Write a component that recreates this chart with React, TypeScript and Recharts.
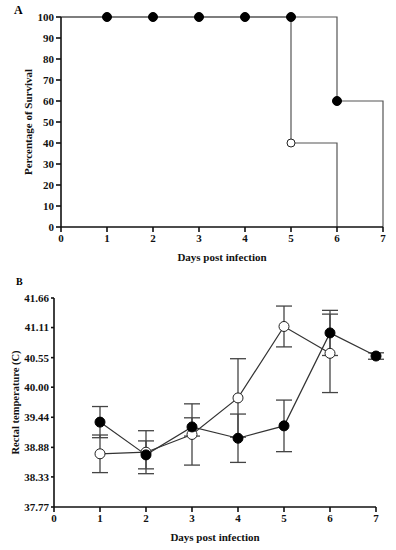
import React from 'react';
import { ComposedChart, LineChart, Line, XAxis, YAxis, ErrorBar, Scatter } from 'recharts';

// Panel A: survival (Kaplan-Meier steps)
const survivalTicksX = [0, 1, 2, 3, 4, 5, 6, 7];
const survivalTicksY = [0, 10, 20, 30, 40, 50, 60, 70, 80, 90, 100];
const filledStepDays = [0, 6, 7];
const filledStepValues = [100, 60, 0];
const openStepDays = [0, 5, 6];
const openStepValues = [100, 40, 0];
const filledMarkDays = [1, 2, 3, 4, 5, 6];
const filledMarkValues = [100, 100, 100, 100, 100, 60];
const openMarkDays = [5];
const openMarkValues = [40];

// Panel B: rectal temperature
const tempTicksY = [37.77, 38.33, 38.88, 39.44, 40.0, 40.55, 41.11, 41.66];
const filledTempDays = [1, 2, 3, 4, 5, 6, 7];
const filledTempValues = [39.35, 38.74, 39.26, 39.05, 39.28, 41.01, 40.58];
const filledTempErr = [0.29, 0.26, 0.17, 0.45, 0.48, 0.42, 0.06];
const openTempDays = [1, 2, 3, 4, 5, 6];
const openTempValues = [38.76, 38.79, 39.12, 39.8, 41.13, 40.63];
const openTempErr = [0.35, 0.4, 0.57, 0.73, 0.38, 0.73];

const zip = (xs: number[], ys: number[]) => xs.map((x, i) => ({ x, y: ys[i] }));
const zipErr = (xs: number[], ys: number[], es: number[]) => xs.map((x, i) => ({ x, y: ys[i], e: es[i] }));

const FONT = '"Liberation Serif", "Times New Roman", serif';
const tickStyle = { fontFamily: FONT, fontWeight: 700, fontSize: 11, fill: '#111' };
const AX = '#111';

const yLabel = (text: string, dx: number, fs: number) => (props: any) => {
  const vb = props.viewBox;
  const cx = dx;
  const cy = vb.y + vb.height / 2;
  return (
    <text x={cx} y={cy} transform={`rotate(-90 ${cx} ${cy})`} textAnchor="middle" dominantBaseline="central"
      style={{ fontFamily: FONT, fontWeight: 700, fontSize: fs, fill: '#111' }}>{text}</text>
  );
};
const xLabel = (text: string, dy: number) => (props: any) => {
  const vb = props.viewBox;
  return (
    <text x={vb.x + vb.width / 2} y={vb.y + dy} textAnchor="middle"
      style={{ fontFamily: FONT, fontWeight: 700, fontSize: 11, fill: '#111' }}>{text}</text>
  );
};

const filledDot = (r: number) => (p: any) => <circle key={p.index} cx={p.cx} cy={p.cy} r={r} fill="#000" stroke="#000" strokeWidth={1} />;
const openDot = (r: number) => (p: any) => <circle key={p.index} cx={p.cx} cy={p.cy} r={r} fill="#fff" stroke="#222" strokeWidth={1} />;

export default function App() {
  return (
    <div style={{ position: 'absolute', left: 0, top: 0, width: 396, height: 550, background: '#fff' }}>
      <div style={{ position: 'absolute', left: 14, top: 3, fontFamily: FONT, fontWeight: 700, fontSize: 12 }}>A</div>
      <div style={{ position: 'absolute', left: 16, top: 276, fontFamily: FONT, fontWeight: 700, fontSize: 10 }}>B</div>
      <div style={{ position: 'absolute', left: 0, top: 0 }}>
        <ComposedChart width={396} height={270} margin={{ top: 17, right: 13, left: 0, bottom: 13 }}>
          <XAxis type="number" dataKey="x" domain={[0, 7]} ticks={survivalTicksX} height={30}
            tick={tickStyle} tickSize={5} stroke={AX} strokeWidth={1.6} allowDuplicatedCategory={false}
            label={{ content: xLabel('Days post infection', 34) } as any} />
          <YAxis type="number" domain={[0, 100]} ticks={survivalTicksY} width={61}
            tick={tickStyle} tickSize={5} stroke={AX} strokeWidth={1.6}
            label={{ content: yLabel('Percentage of Survival', 28, 11) } as any} />
          <Line data={zip(filledStepDays, filledStepValues)} dataKey="y" type="stepAfter" stroke="#555" strokeWidth={1.2} dot={false} isAnimationActive={false} />
          <Line data={zip(openStepDays, openStepValues)} dataKey="y" type="stepAfter" stroke="#555" strokeWidth={1.2} dot={false} isAnimationActive={false} />
          <Scatter data={zip(filledMarkDays, filledMarkValues)} dataKey="y" shape={filledDot(4.5)} isAnimationActive={false} />
          <Scatter data={zip(openMarkDays, openMarkValues)} dataKey="y" shape={openDot(4)} isAnimationActive={false} />
        </ComposedChart>
      </div>
      <div style={{ position: 'absolute', left: 0, top: 275 }}>
        <LineChart width={396} height={275} margin={{ top: 23, right: 20, left: 0, bottom: 13 }}>
          <XAxis type="number" dataKey="x" domain={[0, 7]} ticks={survivalTicksX} height={30}
            tick={tickStyle} tickSize={5} stroke={AX} strokeWidth={1.6} allowDuplicatedCategory={false}
            label={{ content: xLabel('Days post infection', 34) } as any} />
          <YAxis type="number" domain={[37.77, 41.66]} ticks={tempTicksY} width={54}
            tick={tickStyle} tickSize={3} stroke={AX} strokeWidth={1.6}
            tickFormatter={(v: number) => v.toFixed(2)}
            label={{ content: yLabel('Rectal temperature (C)', 15, 10.5) } as any} />
          <Line data={zipErr(openTempDays, openTempValues, openTempErr)} dataKey="y" type="linear" stroke="#333" strokeWidth={1.2}
            dot={openDot(5)} activeDot={false} isAnimationActive={false}>
            <ErrorBar dataKey="e" direction="y" width={8} stroke="#444" strokeWidth={1.3} />
          </Line>
          <Line data={zipErr(filledTempDays, filledTempValues, filledTempErr)} dataKey="y" type="linear" stroke="#333" strokeWidth={1.2}
            dot={filledDot(5)} activeDot={false} isAnimationActive={false}>
            <ErrorBar dataKey="e" direction="y" width={8} stroke="#444" strokeWidth={1.3} />
          </Line>
        </LineChart>
      </div>
    </div>
  );
}
